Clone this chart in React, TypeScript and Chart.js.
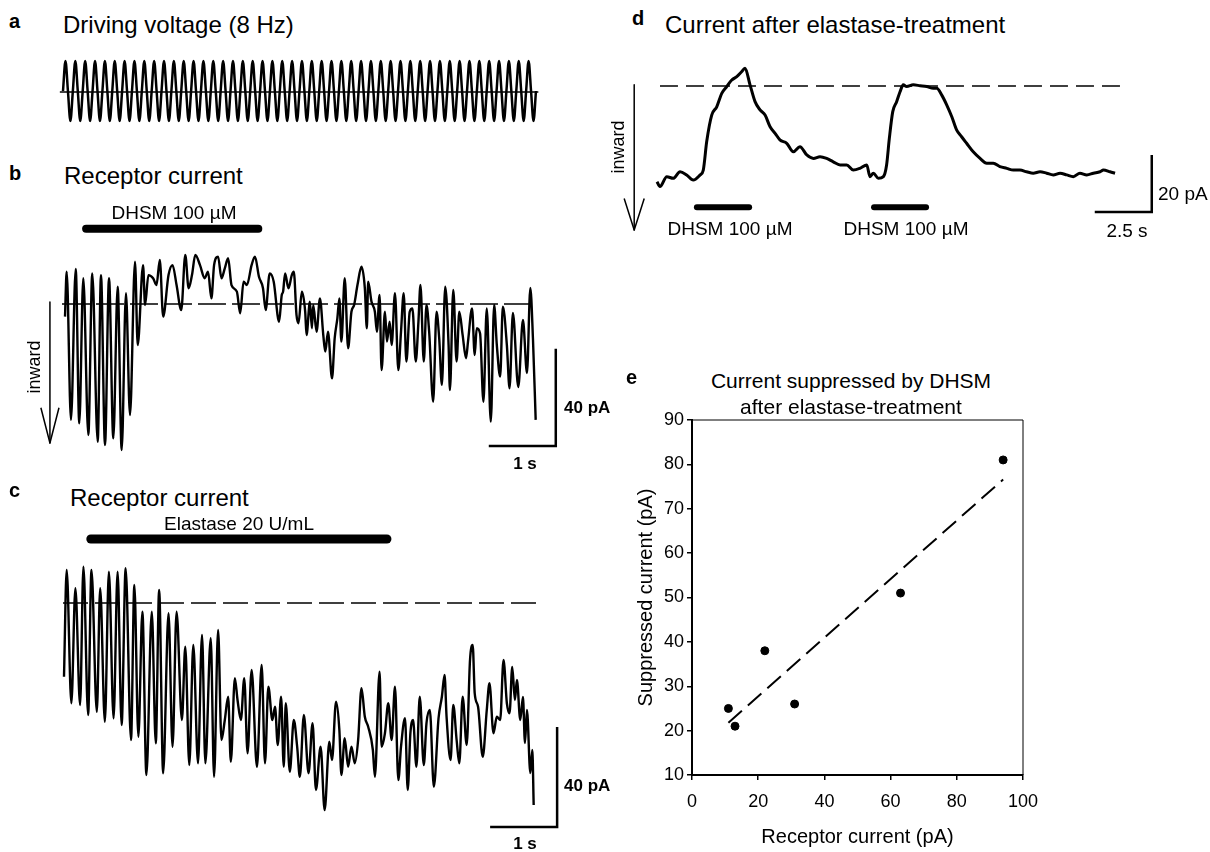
import React, { useEffect, useRef } from "react";
import { Chart, registerables } from "chart.js";

Chart.register(...registerables);

const FONT = '"Liberation Sans", Arial, Helvetica, sans-serif';

// ---------- Panel a: driving voltage (8 Hz), one value per half cycle (normalized) ----------
const drivingRate = 8; // Hz
const drivingPeaks = [
  1, -1, 1, -1, 1, -1, 1, -1, 1, -1, 1, -1, 1, -1, 1, -1, 1, -1, 1, -1, 1, -1, 1, -1,
  1, -1, 1, -1, 1, -1, 1, -1, 1, -1, 1, -1, 1, -1, 1, -1, 1, -1, 1, -1, 1, -1, 1, -1,
  1, -1, 1, -1, 1, -1, 1, -1, 1, -1, 1, -1, 1, -1, 1, -1, 1, -1, 1, -1, 1, -1, 1, -1,
  1, -1, 1, -1, 1, -1, 1, -1, 1, -1, 1, -1, 1, -1, 1, -1, 1, -1, 1, -1, 1, -1, 1, -1,
];

// ---------- Panel b: receptor current with DHSM (s, pA) ----------
const bTime = [
  0.015, 0.04, 0.104, 0.175, 0.228, 0.288, 0.363, 0.422, 0.503, 0.552,
  0.612, 0.672, 0.736, 0.801, 0.861, 0.925, 0.985, 1.06, 1.1, 1.18,
  1.21, 1.26, 1.33, 1.38, 1.43, 1.48, 1.56, 1.62, 1.68, 1.75,
  1.81, 1.86, 1.91, 1.96, 2.03, 2.1, 2.15, 2.2, 2.24, 2.3,
  2.35, 2.4, 2.45, 2.5, 2.58, 2.63, 2.68, 2.73, 2.8, 2.85,
  2.91, 2.97, 3.01, 3.07, 3.13, 3.21, 3.25, 3.27, 3.3, 3.35,
  3.4, 3.43, 3.47, 3.5, 3.55, 3.6, 3.62, 3.67, 3.7, 3.72,
  3.77, 3.82, 3.87, 3.9, 3.94, 4.0, 4.04, 4.08, 4.11, 4.14,
  4.19, 4.24, 4.29, 4.33, 4.38, 4.44, 4.49, 4.52, 4.54, 4.59,
  4.64, 4.67, 4.71, 4.74, 4.79, 4.82, 4.86, 4.89, 4.94, 4.99,
  5.03, 5.07, 5.11, 5.16, 5.2, 5.25, 5.29, 5.32, 5.37, 5.41,
  5.45, 5.51, 5.56, 5.6, 5.64, 5.69, 5.74, 5.76, 5.81, 5.86,
  5.9, 5.95, 6.0, 6.03, 6.09, 6.13, 6.16, 6.21, 6.26, 6.31,
  6.37, 6.42, 6.46, 6.51, 6.55, 6.61, 6.65, 6.7, 6.78, 6.85,
  6.91, 6.96, 7.0, 7.04,
];
const bCurrent = [
  -5.2, 13.3, -47.7, 14.4, -49.1, 10.6, -53.9, 12.6, -56.7, 11.9,
  -58.0, 10.6, -55.3, 7.1, -60.1, 4.4, -45.7, 17.4, -16.9, 16.0,
  -0.4, 11.9, 10.6, 7.8, 18.1, -5.2, 11.9, 16.0, 7.8, -2.5,
  20.2, 6.5, 11.9, 20.2, 16.0, 10.6, 13.3, 2.3, 16.0, 19.5,
  10.6, 14.7, 18.8, 7.8, 5.1, -3.8, 9.2, 7.8, 16.0, 19.5,
  11.2, 6.5, -2.5, 12.6, 9.2, -7.3, 3.7, 5.1, 12.6, 6.5,
  11.9, 13.3, -4.5, -7.9, 5.1, -3.2, -12.8, 0.9, -10.0, -0.4,
  -11.4, 2.3, -12.8, -19.6, -11.4, -30.6, -14.1, -5.9, 2.3, -15.5,
  10.6, -18.2, -3.2, -0.4, 7.8, 15.3, 6.5, -10.0, 9.2, 0.9,
  -3.2, -11.4, 3.7, -27.2, -3.2, -15.5, -7.3, -16.9, 4.4, -27.2,
  -11.4, 4.4, -23.7, -3.2, -1.8, -23.7, -7.3, 7.8, -23.7, -0.4,
  -11.4, -40.2, -3.2, -14.1, -33.3, 7.1, -16.9, -35.4, 5.8, -23.7,
  -3.2, -12.8, -22.3, -15.5, -1.8, -21.0, -10.0, -12.1, -40.2, -1.8,
  -48.4, -0.4, -16.9, -29.9, -1.1, -16.9, -34.7, -3.7, -34.2, -6.6,
  -28.4, 6.6, -14.8, -47.7,
];
const bDrugOn = [0.33, 2.9]; // DHSM 100 µM application (s)

// ---------- Panel c: receptor current with elastase (s, pA) ----------
const cTime = [
  0.0, 0.04, 0.11, 0.17, 0.24, 0.29, 0.36, 0.41, 0.49, 0.54,
  0.61, 0.67, 0.74, 0.8, 0.86, 0.92, 1.0, 1.05, 1.11, 1.17,
  1.23, 1.31, 1.37, 1.42, 1.48, 1.56, 1.62, 1.68, 1.76, 1.81,
  1.87, 1.93, 2.0, 2.06, 2.11, 2.19, 2.24, 2.3, 2.35, 2.4,
  2.45, 2.49, 2.55, 2.59, 2.64, 2.69, 2.74, 2.8, 2.88, 2.95,
  3.0, 3.05, 3.11, 3.15, 3.19, 3.24, 3.28, 3.31, 3.37, 3.43,
  3.48, 3.52, 3.58, 3.65, 3.71, 3.76, 3.83, 3.89, 3.96, 4.0,
  4.06, 4.11, 4.14, 4.19, 4.24, 4.29, 4.34, 4.39, 4.44, 4.49,
  4.54, 4.61, 4.64, 4.71, 4.74, 4.79, 4.84, 4.89, 4.94, 4.99,
  5.03, 5.09, 5.13, 5.17, 5.21, 5.26, 5.31, 5.37, 5.41, 5.46,
  5.52, 5.59, 5.64, 5.68, 5.71, 5.77, 5.81, 5.86, 5.9, 5.95,
  6.01, 6.06, 6.1, 6.13, 6.18, 6.25, 6.31, 6.35, 6.41, 6.46,
  6.51, 6.56, 6.61, 6.65, 6.69, 6.73, 6.76, 6.81, 6.85, 6.88,
  6.91, 6.96, 6.99, 7.01,
];
const cCurrent = [
  -29.5, 13.2, -40.1, 5.9, -40.8, 14.5, -44.8, 13.2, -43.5, 5.9,
  -47.5, 12.5, -46.1, 12.5, -48.8, 13.9, -54.8, 7.2, -53.5, -3.5,
  -68.8, -3.5, -56.1, 5.2, -68.1, -4.1, -57.5, -3.5, -46.8, -17.5,
  -64.8, -16.8, -64.1, -12.8, -64.1, -14.1, -69.5, -10.8, -54.8, -46.8,
  -37.5, -63.5, -30.1, -38.8, -46.8, -30.1, -60.1, -26.8, -65.5, -24.8,
  -64.1, -33.5, -46.8, -41.5, -56.8, -37.5, -65.5, -40.1, -67.5, -46.8,
  -57.5, -69.5, -44.8, -68.1, -48.1, -74.8, -57.5, -82.8, -55.5, -62.8,
  -39.5, -50.8, -68.8, -54.1, -65.5, -57.5, -64.1, -54.8, -34.1, -45.5,
  -49.5, -58.8, -69.5, -27.5, -57.5, -52.1, -40.1, -54.8, -33.5, -70.8,
  -57.5, -46.1, -74.8, -52.1, -46.8, -65.5, -37.5, -64.8, -48.1, -42.8,
  -73.5, -46.1, -37.5, -28.8, -45.5, -62.8, -40.8, -54.8, -64.1, -37.5,
  -56.8, -22.8, -16.8, -36.1, -41.5, -61.5, -42.8, -32.1, -52.1, -45.5,
  -46.8, -22.8, -40.1, -44.1, -25.6, -38.8, -30.8, -46.8, -37.6, -56.0,
  -42.8, -68.0, -58.8, -80.8,
];
const cElastaseOn = [0.4, 4.82]; // Elastase 20 U/mL application (s)

// ---------- Panel d: current after elastase treatment (s, pA) ----------
const dTime = [
  0.0, 0.13, 0.43, 0.71, 1.01, 1.3, 1.59, 1.89, 2.03, 2.18,
  2.4, 2.62, 2.84, 3.06, 3.28, 3.5, 3.71, 3.86, 4.08, 4.3,
  4.52, 4.74, 4.96, 5.18, 5.39, 5.69, 5.98, 6.27, 6.57, 6.86,
  7.15, 7.44, 7.73, 8.03, 8.32, 8.61, 8.9, 9.2, 9.34, 9.49,
  9.71, 9.93, 10.07, 10.19, 10.34, 10.51, 10.66, 10.8, 10.95, 11.24,
  11.54, 11.83, 12.12, 12.27, 12.49, 12.71, 12.93, 13.14, 13.36, 13.58,
  13.87, 14.17, 14.46, 14.75, 15.04, 15.34, 15.63, 15.92, 16.21, 16.5,
  16.8, 17.09, 17.38, 17.68, 17.97, 18.26, 18.55, 18.85, 19.14, 19.43,
  19.58, 19.87, 20.09,
];
const dCurrent = [
  -33.6, -35.3, -31.8, -32.4, -30.1, -31.2, -33.0, -31.2, -29.5, -19.5,
  -10.2, -7.3, -2.6, -0.2, 2.1, 3.3, 5.0, 6.2, 0.4, -5.5,
  -8.4, -10.2, -14.3, -16.6, -18.9, -20.1, -23.1, -21.3, -24.2, -25.4,
  -24.8, -25.4, -26.6, -27.7, -27.7, -29.5, -28.9, -27.7, -31.8, -30.6,
  -32.4, -31.8, -27.7, -18.4, -9.0, -5.5, -2.0, 0.4, -0.2, 0.4,
  0.1, -0.2, -0.8, -0.8, -3.2, -6.7, -10.8, -15.4, -17.8, -20.1,
  -23.1, -25.4, -27.1, -27.1, -28.3, -28.9, -29.5, -29.5, -30.1, -30.6,
  -30.1, -30.6, -31.2, -30.6, -31.2, -31.8, -30.6, -31.2, -30.6, -30.1,
  -29.5, -30.1, -30.6,
];
const dDrugOn1 = [1.75, 4.04];
const dDrugOn2 = [9.52, 11.8];

// ---------- Panel e: suppressed vs receptor current (pA) ----------
const receptorCurrent = [11, 13, 22, 31, 63, 94];
const suppressedCurrent = [25, 21, 38, 26, 51, 81];
const fitX = [11, 94];
const fitY = [21.8, 76.6];
const eXTicks = [0, 20, 40, 60, 80, 100];
const eYTicks = [10, 20, 30, 40, 50, 60, 70, 80, 90];

// ---------- helpers ----------
type Pt = { x: number; y: number };
type Box = { left: number; top: number; width: number; height: number };

const pts = (xs: number[], ys: number[]): Pt[] => xs.map((x, i) => ({ x, y: ys[i] }));

function line(data: Pt[], width: number, extra: any = {}) {
  return {
    data,
    borderColor: "#000",
    backgroundColor: "#000",
    borderWidth: width,
    pointRadius: 0,
    fill: false,
    tension: 0,
    borderJoinStyle: "round",
    ...extra,
  };
}

function scaleBar(t0: number, t1: number, i0: number, i1: number) {
  return line([{ x: t0, y: i0 }, { x: t1, y: i0 }, { x: t1, y: i1 }], 2.5, { borderJoinStyle: "miter" });
}

function arrow(t: number, top: number, tip: number, headLen: number, halfW: number) {
  return [
    line([{ x: t, y: top }, { x: t, y: tip }], 1.5),
    line([{ x: t - halfW, y: tip + headLen }, { x: t, y: tip }, { x: t + halfW, y: tip + headLen }], 1.5),
  ];
}

function TraceChart({ box, xOrigin, xPx, yOrigin, yPx, datasets }: {
  box: Box; xOrigin: number; xPx: number; yOrigin: number; yPx: number; datasets: any[];
}) {
  const ref = useRef<HTMLCanvasElement>(null);
  useEffect(() => {
    const xmin = (box.left - xOrigin) / xPx;
    const xmax = (box.left + box.width - xOrigin) / xPx;
    const ymax = (yOrigin - box.top) / yPx;
    const ymin = (yOrigin - box.top - box.height) / yPx;
    const chart = new Chart(ref.current as HTMLCanvasElement, {
      type: "line",
      data: { datasets },
      options: {
        responsive: false,
        animation: false,
        events: [],
        layout: { padding: 0 },
        plugins: { legend: { display: false }, tooltip: { enabled: false }, title: { display: false } },
        scales: {
          x: { type: "linear", min: xmin, max: xmax, display: false },
          y: { type: "linear", min: ymin, max: ymax, display: false },
        },
        elements: { point: { radius: 0 } },
      } as any,
    });
    return () => chart.destroy();
  }, []);
  return (
    <canvas
      ref={ref}
      width={box.width}
      height={box.height}
      style={{ position: "absolute", left: box.left, top: box.top, width: box.width, height: box.height }}
    />
  );
}

const framePlugin = {
  id: "frame",
  afterDatasetsDraw(chart: any) {
    const { ctx, chartArea } = chart;
    ctx.save();
    ctx.strokeStyle = "#000";
    ctx.lineWidth = 1;
    ctx.beginPath();
    ctx.moveTo(chartArea.left, chartArea.top);
    ctx.lineTo(chartArea.right, chartArea.top);
    ctx.lineTo(chartArea.right, chartArea.bottom);
    ctx.stroke();
    ctx.restore();
  },
};

function ScatterPanel({ box }: { box: Box }) {
  const ref = useRef<HTMLCanvasElement>(null);
  useEffect(() => {
    const tickFont = { family: FONT, size: 18 };
    const titleFont = { family: FONT, size: 20 };
    const chart = new Chart(ref.current as HTMLCanvasElement, {
      type: "scatter",
      data: {
        datasets: [
          {
            type: "line",
            data: pts(fitX, fitY),
            borderColor: "#000",
            borderWidth: 2,
            borderDash: [18, 8],
            pointRadius: 0,
            fill: false,
          },
          {
            data: pts(receptorCurrent, suppressedCurrent),
            pointRadius: 4,
            backgroundColor: "#000",
            borderColor: "#000",
          },
        ],
      } as any,
      options: {
        responsive: false,
        animation: false,
        events: [],
        layout: { padding: { left: 0, top: 20, right: 27, bottom: 0 } },
        plugins: { legend: { display: false }, tooltip: { enabled: false } },
        scales: {
          x: {
            type: "linear",
            min: 0,
            max: 100,
            afterBuildTicks: (s: any) => { s.ticks = eXTicks.map((v) => ({ value: v })); },
            afterFit: (s: any) => { s.height = 77; },
            ticks: { color: "#000", font: tickFont, padding: 11, maxRotation: 0, autoSkip: false },
            grid: { display: true, drawOnChartArea: false, drawTicks: true, tickLength: 5, color: "#000", lineWidth: 1.5 },
            border: { display: true, color: "#000", width: 2 },
            title: { display: true, text: "Receptor current (pA)", color: "#000", font: titleFont, padding: { top: 0, bottom: 3 } },
          },
          y: {
            type: "linear",
            min: 10,
            max: 90,
            afterBuildTicks: (s: any) => { s.ticks = eYTicks.map((v) => ({ value: v })); },
            afterFit: (s: any) => { s.width = 62; },
            ticks: { color: "#000", font: tickFont, padding: 3, autoSkip: false },
            grid: { display: true, drawOnChartArea: false, drawTicks: true, tickLength: 5, color: "#000", lineWidth: 1.5 },
            border: { display: true, color: "#000", width: 2 },
            title: { display: true, text: "Suppressed current (pA)", color: "#000", font: titleFont, padding: { top: 4, bottom: 0 } },
          },
        },
      } as any,
      plugins: [framePlugin],
    });
    return () => chart.destroy();
  }, []);
  return (
    <canvas
      ref={ref}
      width={box.width}
      height={box.height}
      style={{ position: "absolute", left: box.left, top: box.top, width: box.width, height: box.height }}
    />
  );
}

function Txt({ x, y, text, size = 18, bold = false, anchor = "left", rotate = 0 }: {
  x: number; y: number; text: string; size?: number; bold?: boolean; anchor?: "left" | "center"; rotate?: number;
}) {
  const tx = anchor === "center" ? "-50%" : "0";
  return (
    <div
      style={{
        position: "absolute",
        left: x,
        top: y,
        transform: `translate(${tx}, -50%)${rotate ? ` rotate(${rotate}deg)` : ""}`,
        fontFamily: FONT,
        fontSize: size,
        fontWeight: bold ? 700 : 400,
        lineHeight: 1,
        whiteSpace: "nowrap",
        color: "#000",
      }}
    >
      {text}
    </div>
  );
}

export default function App() {
  // panel a
  const half = 1 / (2 * drivingRate);
  const drivingPts: Pt[] = [];
  drivingPeaks.forEach((v, i) => {
    drivingPts.push({ x: i * half, y: 0 });
    drivingPts.push({ x: (i + 0.5) * half, y: v });
  });
  drivingPts.push({ x: drivingPeaks.length * half, y: 0 });
  const aDatasets = [
    line([{ x: -0.04, y: -0.03 }, { x: drivingPeaks.length * half + 0.03, y: -0.03 }], 1.5),
    line(drivingPts, 2.5, { cubicInterpolationMode: "monotone" }),
  ];

  const smooth = { cubicInterpolationMode: "monotone" };

  // panel b
  const bDatasets = [
    line([{ x: -0.03, y: 0 }, { x: 7.04, y: 0 }], 1.5, { borderDash: [28, 6] }),
    line(pts(bTime, bCurrent), 2.4, smooth),
    line([{ x: bDrugOn[0], y: 31 }, { x: bDrugOn[1], y: 31 }], 8, { borderCapStyle: "round" }),
    ...arrow(-0.21, 0.8, -57.2, 14.5, 0.135),
    scaleBar(6.34, 7.34, -58.4, -18.4),
  ];

  // panel c
  const cDatasets = [
    line([{ x: -0.015, y: 0 }, { x: 7.07, y: 0 }], 1.5, { borderDash: [25, 7] }),
    line(pts(cTime, cCurrent), 2.4, smooth),
    line([{ x: cElastaseOn[0], y: 25.6 }, { x: cElastaseOn[1], y: 25.6 }], 9, { borderCapStyle: "round" }),
    scaleBar(6.36, 7.36, -89.6, -49.6),
  ];

  // panel d
  const dDatasets = [
    line([{ x: 0.13, y: 0 }, { x: 20.6, y: 0 }], 1.5, { borderDash: [18, 8] }),
    line(pts(dTime, dCurrent), 3, smooth),
    line([{ x: dDrugOn1[0], y: -42.5 }, { x: dDrugOn1[1], y: -42.5 }], 6, { borderCapStyle: "round" }),
    line([{ x: dDrugOn2[0], y: -42.5 }, { x: dDrugOn2[1], y: -42.5 }], 6, { borderCapStyle: "round" }),
    ...arrow(-1.0, 0.4, -50.5, 11, 0.44),
    scaleBar(19.2, 21.7, -44.2, -24.2),
  ];

  return (
    <div style={{ position: "absolute", left: 0, top: 0, width: 1210, height: 852, background: "#fff", overflow: "hidden" }}>
      <TraceChart box={{ left: 0, top: 40, width: 600, height: 100 }} xOrigin={63} xPx={78.83} yOrigin={91} yPx={30} datasets={aDatasets} />
      <TraceChart box={{ left: 0, top: 190, width: 600, height: 285 }} xOrigin={64} xPx={67} yOrigin={304} yPx={2.43} datasets={bDatasets} />
      <TraceChart box={{ left: 0, top: 525, width: 600, height: 327 }} xOrigin={64} xPx={67} yOrigin={603} yPx={2.5} datasets={cDatasets} />
      <TraceChart box={{ left: 600, top: 40, width: 610, height: 215 }} xOrigin={657} xPx={22.8} yOrigin={86} yPx={2.85} datasets={dDatasets} />
      <ScatterPanel box={{ left: 630, top: 400, width: 420, height: 452 }} />

      <Txt x={9} y={21} text="a" bold size={20} />
      <Txt x={63} y={25} text="Driving voltage (8 Hz)" size={24} />

      <Txt x={9} y={173} text="b" bold size={20} />
      <Txt x={64} y={176} text="Receptor current" size={24} />
      <Txt x={174} y={212} text="DHSM 100 µM" size={19} anchor="center" />
      <Txt x={34} y={367} text="inward" size={18} anchor="center" rotate={-90} />
      <Txt x={564} y={407} text="40 pA" size={17} bold />
      <Txt x={525} y={463} text="1 s" size={17} bold anchor="center" />

      <Txt x={9} y={490} text="c" bold size={20} />
      <Txt x={70} y={498} text="Receptor current" size={24} />
      <Txt x={239} y={523} text="Elastase 20 U/mL" size={19} anchor="center" />
      <Txt x={564} y={785} text="40 pA" size={17} bold />
      <Txt x={525} y={843} text="1 s" size={17} bold anchor="center" />

      <Txt x={632} y={18} text="d" bold size={20} />
      <Txt x={665} y={25} text="Current after elastase-treatment" size={24} />
      <Txt x={618} y={147} text="inward" size={18} anchor="center" rotate={-90} />
      <Txt x={730} y={228} text="DHSM 100 µM" size={19} anchor="center" />
      <Txt x={906} y={228} text="DHSM 100 µM" size={19} anchor="center" />
      <Txt x={1158} y={193} text="20 pA" size={19} />
      <Txt x={1127} y={230} text="2.5 s" size={19} anchor="center" />

      <Txt x={626} y={377} text="e" bold size={20} />
      <Txt x={851} y={380} text="Current suppressed by DHSM" size={21} anchor="center" />
      <Txt x={851} y={406} text="after elastase-treatment" size={21} anchor="center" />
    </div>
  );
}
